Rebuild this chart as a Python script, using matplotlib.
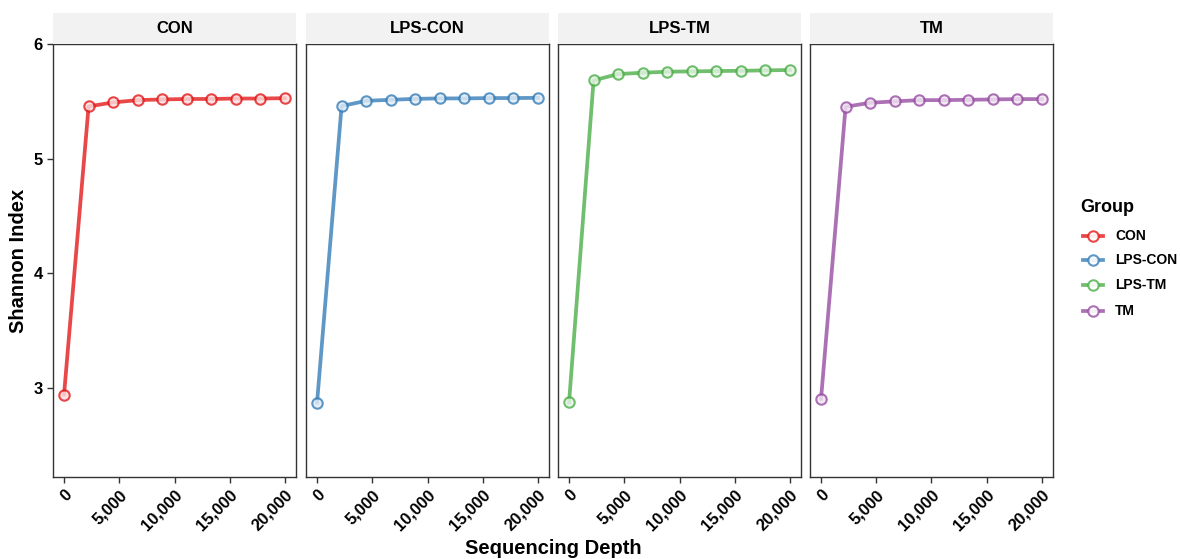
import matplotlib
matplotlib.use("Agg")
import matplotlib.pyplot as plt
from matplotlib.lines import Line2D
from matplotlib.ticker import FuncFormatter

plt.rcParams['font.family'] = ['Liberation Sans', 'DejaVu Sans']
plt.rcParams['font.weight'] = 'bold'

groups = ["CON", "LPS-CON", "LPS-TM", "TM"]
colors = ["#E41A1C", "#377EB8", "#4DAF4A", "#984EA3"]
depth = [0, 2222, 4444, 6667, 8889, 11111, 13333, 15556, 17778, 20000]
shannon_con = [2.94, 5.455, 5.49, 5.51, 5.516, 5.52, 5.52, 5.524, 5.524, 5.527]
shannon_lps_con = [2.868, 5.458, 5.504, 5.513, 5.521, 5.525, 5.525, 5.528, 5.528, 5.530]
shannon_lps_tm = [2.871, 5.682, 5.738, 5.749, 5.758, 5.761, 5.764, 5.766, 5.770, 5.773]
shannon_tm = [2.903, 5.452, 5.487, 5.499, 5.510, 5.510, 5.513, 5.516, 5.519, 5.519]
series = [shannon_con, shannon_lps_con, shannon_lps_tm, shannon_tm]
xticks = [0, 5000, 10000, 15000, 20000]
yticks = [3, 4, 5, 6]

W, H = 1180, 559
fig = plt.figure(figsize=(W / 100, H / 100), dpi=100)

lefts = [53, 306, 558, 810]
pw = 243
top, bottom = 44, 477
strip_top = 13

alpha = 0.8
for i, (g, c, ys) in enumerate(zip(groups, colors, series)):
    ax = fig.add_axes([lefts[i] / W, 1 - bottom / H, pw / W, (bottom - top) / H])
    ax.plot(depth, ys, color=c, alpha=alpha, lw=2.7, zorder=2)
    ax.plot(depth, ys, linestyle='none', marker='o', ms=6.0, mew=0,
            mfc=(1, 1, 1, 0.8), zorder=2.5)
    ax.plot(depth, ys, linestyle='none', marker='o', ms=7.5, mew=1.5,
            mec=matplotlib.colors.to_rgba(c, alpha),
            mfc=matplotlib.colors.to_rgba(c, 0.12), zorder=3)
    ax.set_xlim(-1000, 21000)
    ax.set_ylim(2.22, 6.0)
    ax.set_xticks(xticks)
    ax.xaxis.set_major_formatter(FuncFormatter(lambda v, p: f"{int(v):,}"))
    ax.set_yticks(yticks)
    for s in ax.spines.values():
        s.set_color("#333333")
        s.set_linewidth(1.0)
    ax.tick_params(axis='both', colors="#333333", length=4, width=1.0,
                   labelsize=12, labelcolor='black')
    for lab in ax.get_xticklabels():
        lab.set_rotation(45)
        lab.set_ha('right')
        lab.set_va('top')
        lab.set_rotation_mode('anchor')
        lab.set_fontweight('bold')
    if i == 0:
        for lab in ax.get_yticklabels():
            lab.set_fontweight('bold')
    else:
        ax.set_yticklabels([])
        ax.tick_params(axis='y', length=0)
    # strip
    sax = fig.add_axes([lefts[i] / W, 1 - top / H, pw / W, (top - strip_top) / H])
    sax.set_facecolor("#F2F2F2")
    sax.set_xticks([]); sax.set_yticks([])
    for s in sax.spines.values():
        s.set_visible(False)
    sax.text(0.5, 0.5, g, ha='center', va='center', fontsize=12,
             fontweight='bold', transform=sax.transAxes)

fig.text(553 / W, 1 - 548 / H, "Sequencing Depth", ha='center', va='center',
         fontsize=14.5, fontweight='bold')
fig.text(19 / W, 1 - 261 / H, "Shannon Index", ha='center', va='center',
         rotation=90, fontsize=14.5, fontweight='bold')

# legend
fig.text(1080 / W, 1 - 207 / H, "Group", ha='left', va='center',
         fontsize=13, fontweight='bold')
leg_y = [236, 260, 285, 311]
for g, c, yy in zip(groups, colors, leg_y):
    fy = 1 - yy / H
    fig.add_artist(Line2D([1083 / W, 1103 / W], [fy, fy], color=c, alpha=alpha,
                          lw=2.7, transform=fig.transFigure))
    fig.add_artist(Line2D([1093 / W], [fy], marker='o', ms=7.5, mew=1.5,
                          mec=matplotlib.colors.to_rgba(c, alpha),
                          mfc=(1, 1, 1, 0.9), linestyle='none',
                          transform=fig.transFigure))
    fig.text(1115 / W, fy, g, ha='left', va='center', fontsize=10,
             fontweight='bold')

fig.savefig("out.png", dpi=100)
